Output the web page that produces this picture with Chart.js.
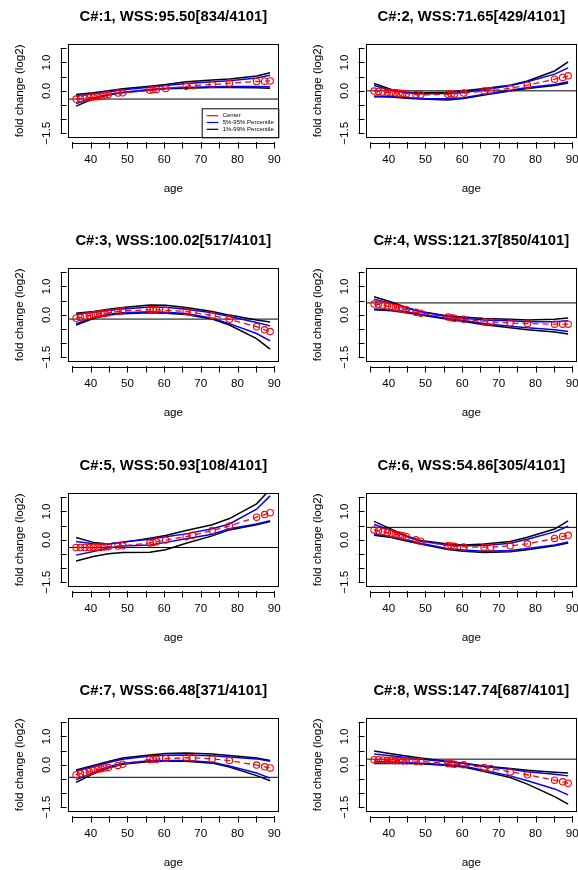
<!DOCTYPE html>
<html>
<head>
<meta charset="utf-8">
<title>fold change by age</title>
<script src="https://cdn.jsdelivr.net/npm/chart.js@4.4.1/dist/chart.umd.min.js"></script>
<style>
  html, body { margin: 0; padding: 0; background: #fff; overflow: hidden; }
  #grid { position: relative; width: 578px; height: 870px; overflow: hidden; }
  .panel { position: absolute; width: 298px; height: 225px; }
</style>
</head>
<body>
<div id="grid"></div>
<script>
// ages where the cluster centers are sampled
var ages = [36, 37.2, 38.4, 39.6, 40.7, 41.8, 42.8, 43.8, 44.8, 47.4, 48.7, 56.1, 57, 57.9, 60.4, 66, 67.8, 73.1, 77.8, 85.2, 87.4, 88.9]
// ages for the percentile curves
var knots = [36, 40.7, 44.8, 48.7, 56.1, 60.4, 66, 73.1, 77.8, 85.2, 88.9]

var titles = [
  'C#:1, WSS:95.50[834/4101]', 'C#:2, WSS:71.65[429/4101]',
  'C#:3, WSS:100.02[517/4101]', 'C#:4, WSS:121.37[850/4101]',
  'C#:5, WSS:50.93[108/4101]', 'C#:6, WSS:54.86[305/4101]',
  'C#:7, WSS:66.48[371/4101]', 'C#:8, WSS:147.74[687/4101]'
]

var centerFc = [
  [-0.29, -0.28, -0.26, -0.24, -0.22, -0.21, -0.19, -0.16, -0.13, -0.08, -0.07, 0.02, 0.04, 0.05, 0.08, 0.16, 0.19, 0.22, 0.27, 0.33, 0.34, 0.35],
  [-0.01, -0.02, -0.04, -0.05, -0.06, -0.07, -0.08, -0.09, -0.10, -0.13, -0.14, -0.12, -0.11, -0.11, -0.08, -0.01, 0.00, 0.09, 0.20, 0.41, 0.47, 0.53],
  [-0.12, -0.09, -0.05, -0.02, 0.00, 0.02, 0.04, 0.05, 0.07, 0.12, 0.14, 0.18, 0.18, 0.18, 0.16, 0.12, 0.08, -0.02, -0.16, -0.42, -0.53, -0.59],
  [0.38, 0.37, 0.34, 0.31, 0.28, 0.26, 0.23, 0.20, 0.18, 0.09, 0.06, -0.08, -0.10, -0.12, -0.16, -0.24, -0.25, -0.29, -0.31, -0.33, -0.33, -0.33],
  [-0.27, -0.27, -0.27, -0.27, -0.26, -0.26, -0.26, -0.25, -0.24, -0.22, -0.21, -0.11, -0.09, -0.07, -0.01, 0.11, 0.16, 0.33, 0.49, 0.80, 0.89, 0.96],
  [0.35, 0.32, 0.29, 0.25, 0.22, 0.19, 0.17, 0.14, 0.11, 0.00, -0.05, -0.21, -0.22, -0.23, -0.25, -0.26, -0.26, -0.21, -0.14, 0.05, 0.12, 0.16],
  [-0.35, -0.31, -0.27, -0.24, -0.20, -0.16, -0.14, -0.11, -0.09, -0.02, 0.02, 0.19, 0.20, 0.20, 0.22, 0.25, 0.25, 0.21, 0.15, -0.01, -0.07, -0.11],
  [0.18, 0.18, 0.17, 0.16, 0.16, 0.15, 0.15, 0.14, 0.14, 0.13, 0.12, 0.05, 0.04, 0.02, 0.00, -0.09, -0.13, -0.25, -0.35, -0.54, -0.60, -0.65]
]

var p99Upper = [
  [-0.13, -0.07, 0.00, 0.07, 0.16, 0.22, 0.32, 0.38, 0.42, 0.52, 0.64],
  [0.26, 0.05, -0.05, -0.07, -0.05, 0.00, 0.08, 0.20, 0.35, 0.70, 1.02],
  [0.06, 0.12, 0.20, 0.26, 0.35, 0.34, 0.26, 0.12, -0.01, -0.18, -0.25],
  [0.64, 0.45, 0.26, 0.12, -0.04, -0.08, -0.13, -0.16, -0.18, -0.16, -0.11],
  [0.08, -0.09, -0.15, -0.09, 0.06, 0.15, 0.33, 0.53, 0.75, 1.27, 1.78],
  [0.65, 0.38, 0.14, -0.02, -0.15, -0.18, -0.15, -0.06, 0.09, 0.38, 0.67],
  [-0.18, -0.02, 0.12, 0.24, 0.35, 0.40, 0.42, 0.38, 0.33, 0.24, 0.15],
  [0.49, 0.39, 0.31, 0.24, 0.12, 0.06, -0.04, -0.13, -0.19, -0.26, -0.29]
]
var p95Upper = [
  [-0.19, -0.10, -0.04, 0.04, 0.13, 0.19, 0.26, 0.32, 0.36, 0.45, 0.55],
  [0.19, 0.01, -0.07, -0.10, -0.09, -0.06, 0.04, 0.18, 0.32, 0.59, 0.81],
  [0.02, 0.08, 0.15, 0.21, 0.28, 0.27, 0.20, 0.07, -0.06, -0.27, -0.39],
  [0.55, 0.40, 0.24, 0.11, -0.06, -0.12, -0.18, -0.21, -0.24, -0.24, -0.21],
  [-0.06, -0.14, -0.15, -0.08, 0.02, 0.11, 0.21, 0.39, 0.56, 1.08, 1.55],
  [0.54, 0.33, 0.12, -0.05, -0.18, -0.21, -0.20, -0.12, 0.02, 0.28, 0.48],
  [-0.21, -0.06, 0.08, 0.20, 0.31, 0.34, 0.35, 0.32, 0.28, 0.21, 0.13],
  [0.38, 0.32, 0.26, 0.20, 0.11, 0.05, -0.06, -0.16, -0.24, -0.33, -0.39]
]
var p95Lower = [
  [-0.45, -0.25, -0.13, -0.05, 0.05, 0.09, 0.12, 0.14, 0.15, 0.15, 0.14],
  [-0.18, -0.20, -0.24, -0.27, -0.28, -0.24, -0.12, 0.02, 0.12, 0.22, 0.32],
  [-0.31, -0.09, 0.02, 0.07, 0.11, 0.09, 0.05, -0.12, -0.31, -0.66, -0.92],
  [0.21, 0.18, 0.11, 0.02, -0.13, -0.20, -0.31, -0.40, -0.46, -0.53, -0.59],
  [-0.54, -0.41, -0.29, -0.22, -0.18, -0.09, 0.04, 0.20, 0.39, 0.56, 0.67],
  [0.20, 0.12, 0.00, -0.12, -0.31, -0.36, -0.40, -0.38, -0.31, -0.18, -0.08],
  [-0.53, -0.27, -0.07, 0.06, 0.14, 0.15, 0.15, 0.09, -0.04, -0.29, -0.47],
  [0.12, 0.11, 0.08, 0.06, 0.00, -0.05, -0.19, -0.39, -0.56, -0.85, -1.06]
]
var p99Lower = [
  [-0.54, -0.28, -0.15, -0.07, 0.02, 0.07, 0.09, 0.12, 0.12, 0.11, 0.09],
  [-0.21, -0.22, -0.26, -0.29, -0.32, -0.27, -0.15, -0.01, 0.08, 0.19, 0.28],
  [-0.36, -0.13, -0.01, 0.04, 0.07, 0.06, 0.01, -0.15, -0.36, -0.84, -1.21],
  [0.18, 0.14, 0.07, -0.01, -0.16, -0.24, -0.35, -0.46, -0.53, -0.61, -0.68],
  [-0.75, -0.59, -0.49, -0.45, -0.44, -0.35, -0.12, 0.14, 0.35, 0.53, 0.65],
  [0.16, 0.08, -0.04, -0.15, -0.34, -0.40, -0.45, -0.42, -0.35, -0.21, -0.11],
  [-0.62, -0.32, -0.11, 0.02, 0.12, 0.13, 0.13, 0.06, -0.08, -0.38, -0.56],
  [0.05, 0.06, 0.05, 0.04, -0.02, -0.08, -0.24, -0.45, -0.68, -1.12, -1.39]
]
// horizontal reference level drawn across each panel
var baseline = [-0.29, 0.00, -0.15, 0.42, -0.27, 0.44, -0.44, 0.20]

var xTicks = [35, 40, 45, 50, 55, 60, 65, 70, 75, 80, 85, 90]
var xTickLabels = [40, 50, 60, 70, 80, 90]
var yTicks = [-1.5, -1.0, -0.5, 0.0, 0.5, 1.0, 1.5]
var yTickLabels = [-1.5, 0.0, 1.0]

var FONT = '"Liberation Sans", Arial, Helvetica, sans-serif'
var X_MIN = 33.88, X_MAX = 91.12
var rowTops = [0, 224, 449, 674]

Chart.defaults.font.family = FONT
Chart.defaults.color = '#000'

// R style frame: box, detached axes, rotated y labels, legend box
var rFrame = {
  id: 'rFrame',
  afterDraw: function (chart, args, opts) {
    var ctx = chart.ctx, a = chart.chartArea
    var x = chart.scales.x, y = chart.scales.y
    ctx.save()
    ctx.strokeStyle = '#000'
    ctx.lineWidth = 1
    ctx.strokeRect(Math.round(a.left) + 0.5, Math.round(a.top) + 0.5, Math.round(a.width), Math.round(a.height))

    var xl = Math.round(a.bottom) + 6.5
    ctx.beginPath()
    ctx.moveTo(x.getPixelForValue(x.ticks[0].value), xl)
    ctx.lineTo(x.getPixelForValue(x.ticks[x.ticks.length - 1].value), xl)
    x.ticks.forEach(function (t) {
      var px = Math.round(x.getPixelForValue(t.value)) + 0.5
      ctx.moveTo(px, xl - 1.5)
      ctx.lineTo(px, xl + 5)
    })
    var yl = Math.round(a.left) - 6.5
    ctx.moveTo(yl, y.getPixelForValue(y.ticks[0].value))
    ctx.lineTo(yl, y.getPixelForValue(y.ticks[y.ticks.length - 1].value))
    y.ticks.forEach(function (t) {
      var py = Math.round(y.getPixelForValue(t.value)) + 0.5
      ctx.moveTo(yl - 1, py)
      ctx.lineTo(yl + 5, py)
    })
    ctx.stroke()

    ctx.fillStyle = '#000'
    ctx.font = '11.6px ' + FONT
    ctx.textAlign = 'center'
    ctx.textBaseline = 'middle'
    xTickLabels.forEach(function (v) {
      ctx.fillText(String(v), x.getPixelForValue(v), a.bottom + 22)
    })
    yTickLabels.forEach(function (v) {
      ctx.save()
      ctx.translate(a.left - 21.5, y.getPixelForValue(v))
      ctx.rotate(-Math.PI / 2)
      ctx.fillText(v.toFixed(1).replace('-', '\u2212'), 0, 0)
      ctx.restore()
    })

    if (opts.legend) {
      var items = chart.data.datasets.filter(function (d) { return d.inLegend })
      var bw = 76.6, bh = 29
      var bx = a.right - bw, by = a.bottom - bh
      ctx.fillStyle = '#fff'
      ctx.fillRect(bx, by, bw, bh)
      ctx.strokeRect(bx + 0.5, by + 0.5, bw, bh)
      ctx.font = '6px ' + FONT
      ctx.textAlign = 'left'
      items.forEach(function (d, k) {
        var ly = by + 7.4 + k * 6.8
        ctx.strokeStyle = d.borderColor
        ctx.lineWidth = 1.2
        ctx.beginPath()
        ctx.moveTo(bx + 5, ly)
        ctx.lineTo(bx + 16.6, ly)
        ctx.stroke()
        ctx.fillStyle = '#000'
        ctx.fillText(d.label, bx + 21, ly)
      })
    }
    ctx.restore()
  }
}

function points(xs, ys) {
  return xs.map(function (v, k) { return { x: v, y: ys[k] } })
}

function curve(label, xs, ys, color, inLegend) {
  return {
    label: label, data: points(xs, ys), borderColor: color, borderWidth: 1.5,
    pointRadius: 0, tension: 0, inLegend: inLegend, order: 2
  }
}

function makePanel(i) {
  var wrap = document.createElement('div')
  wrap.className = 'panel'
  wrap.style.left = (i % 2) * 298 + 'px'
  wrap.style.top = rowTops[Math.floor(i / 2)] + 'px'
  var cv = document.createElement('canvas')
  cv.width = 298
  cv.height = 225
  wrap.appendChild(cv)
  document.getElementById('grid').appendChild(wrap)

  return new Chart(cv.getContext('2d'), {
    type: 'line',
    data: {
      datasets: [
        {
          label: 'Center', data: points(ages, centerFc[i]), borderColor: '#ff0000', borderWidth: 1.3,
          borderDash: [6, 4], tension: 0, pointRadius: 3.2, pointBorderColor: '#ff0000',
          pointBackgroundColor: 'rgba(0,0,0,0)', pointBorderWidth: 1.1, inLegend: true, order: 0
        },
        curve('5%-95% Percentile', knots, p95Upper[i], '#0000ff', true),
        curve('1%-99% Percentile', knots, p99Upper[i], '#000000', true),
        curve('5%-95% Percentile', knots, p95Lower[i], '#0000ff', false),
        curve('1%-99% Percentile', knots, p99Lower[i], '#000000', false),
        {
          label: 'baseline', data: [{ x: X_MIN, y: baseline[i] }, { x: X_MAX, y: baseline[i] }],
          borderColor: '#000000', borderWidth: 1, pointRadius: 0, order: 3
        }
      ]
    },
    options: {
      responsive: false,
      animation: false,
      devicePixelRatio: 1,
      events: [],
      layout: { padding: { left: 0, right: 19.7, top: 0, bottom: 0 } },
      plugins: {
        legend: { display: false },
        tooltip: { enabled: false },
        title: {
          display: true, text: titles[i], fullSize: false, color: '#000',
          font: { size: 14.8, weight: 'bold' }, padding: { top: 7.6, bottom: 19 }
        },
        rFrame: { legend: i === 0 }
      },
      scales: {
        x: {
          type: 'linear', min: X_MIN, max: X_MAX,
          grid: { display: false }, border: { display: false }, ticks: { display: false },
          afterBuildTicks: function (s) { s.ticks = xTicks.map(function (v) { return { value: v } }) },
          afterFit: function (s) { s.height = 87.7 },
          title: { display: true, text: 'age', font: { size: 11.6 }, padding: { top: 0, bottom: 29.7 } }
        },
        y: {
          type: 'linear', min: -1.64, max: 1.64,
          grid: { display: false }, border: { display: false }, ticks: { display: false },
          afterBuildTicks: function (s) { s.ticks = yTicks.map(function (v) { return { value: v } }) },
          afterFit: function (s) { s.width = 68.3 },
          title: { display: true, text: 'fold change (log2)', font: { size: 11.6 }, padding: { top: 13, bottom: 0 } }
        }
      }
    },
    plugins: [rFrame]
  })
}

for (var i = 0; i < 8; i++) makePanel(i)
</script>
</body>
</html>
